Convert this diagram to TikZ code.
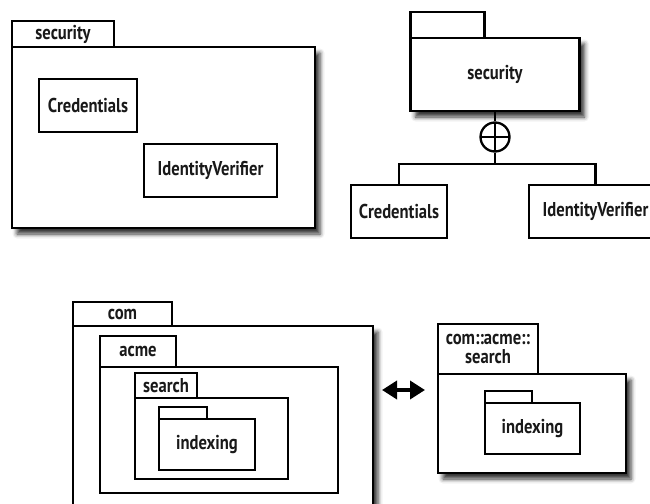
\documentclass[tikz,border=0pt]{standalone}
\usepackage{fontspec}
\setmainfont{PT Sans}[FakeStretch=0.83]
\usetikzlibrary{shadows.blur,arrows.meta}

\begin{document}
\begin{tikzpicture}[x=1pt,y=-1pt,
  box/.style={draw=black, fill=white, line width=2.3pt, inner sep=0pt,
    font=\fontsize{20}{22}\selectfont\bfseries, text=black!90},
  sz/.style 2 args={minimum width=#1, minimum height=#2},
  pkgbody/.style={box, blur shadow={shadow xshift=5pt, shadow yshift=-6pt,
    shadow blur radius=4.5pt, shadow opacity=80}},
  link/.style={line width=2.3pt},
  circplus/.style={draw, line width=2.3pt, circle, minimum size=29pt, inner sep=0pt, fill=white,
    path picture={\draw[line width=2.3pt]
      (path picture bounding box.north) -- (path picture bounding box.south)
      (path picture bounding box.west) -- (path picture bounding box.east);}},
  eqtip/.tip={Triangle[length=15pt,width=18pt]}]
\useasboundingbox (0,0) rectangle (650,503);

% security package with its classes drawn inside
\node[pkgbody, sz={303}{181}] (secBody) at (163.5,137.5) {};
\node[box, sz={102}{26}] (secTab) at (63,34) {security};
\node[box, sz={98}{53}] (cred1) at (88,105.5) {Credentials};
\node[box, sz={133}{53}] (idv1) at (210.5,170.5) {IdentityVerifier};

% security package with its classes shown by nesting connectors
\node[pkgbody, sz={169}{73}] (secBody2) at (495,74.5) {security};
\node[box, sz={74}{26}] (secTab2) at (447.5,25) {};
\node[circplus] (plus) at (495,137) {};
\node[box, sz={96}{53}] (cred2) at (399,211.5) {Credentials};
\node[box, sz={133}{53}] (idv2) at (595.5,211.5) {IdentityVerifier};
\coordinate (junc) at (495,164);
\draw[link] (secBody2.south) -- (plus.north);
\draw[link] (plus.south) -- (junc);
\draw[link] (cred2.north) |- (junc) -| (idv2.north);

% nested packages com / acme / search / indexing
\node[pkgbody, sz={300}{189}] (comBody) at (223,420.5) {};
\node[box, sz={99}{24}] (comTab) at (122.5,314) {com};
\node[box, sz={238}{126}] (acmeBody) at (219,430) {};
\node[box, sz={76}{31}] (acmeTab) at (138,351.5) {acme};
\node[box, sz={153}{81}] (searchBody) at (211.5,438.5) {};
\node[box, sz={62}{25}] (searchTab) at (166,385.5) {search};
\node[box, sz={96}{51}] (idxBody) at (207,444.5) {indexing};
\node[box, sz={48}{12}] (idxTab) at (183,413) {};

% equivalence arrow
\coordinate (eqL) at (382,390);
\coordinate (eqR) at (425,390);
\draw[line width=3.6pt, eqtip-eqtip] (eqL) -- (eqR);

% qualified package name
\node[pkgbody, sz={188}{99}] (casBody) at (532,423.5) {};
\node[box, sz={100}{50}, align=center, font=\fontsize{20}{19}\selectfont\bfseries] (casTab) at (488,349) {com::acme::\\search};
\node[box, sz={95}{51}] (idx2Body) at (532.5,428.5) {indexing};
\node[box, sz={47}{12}] (idx2Tab) at (508.5,397) {};
\end{tikzpicture}
\end{document}
